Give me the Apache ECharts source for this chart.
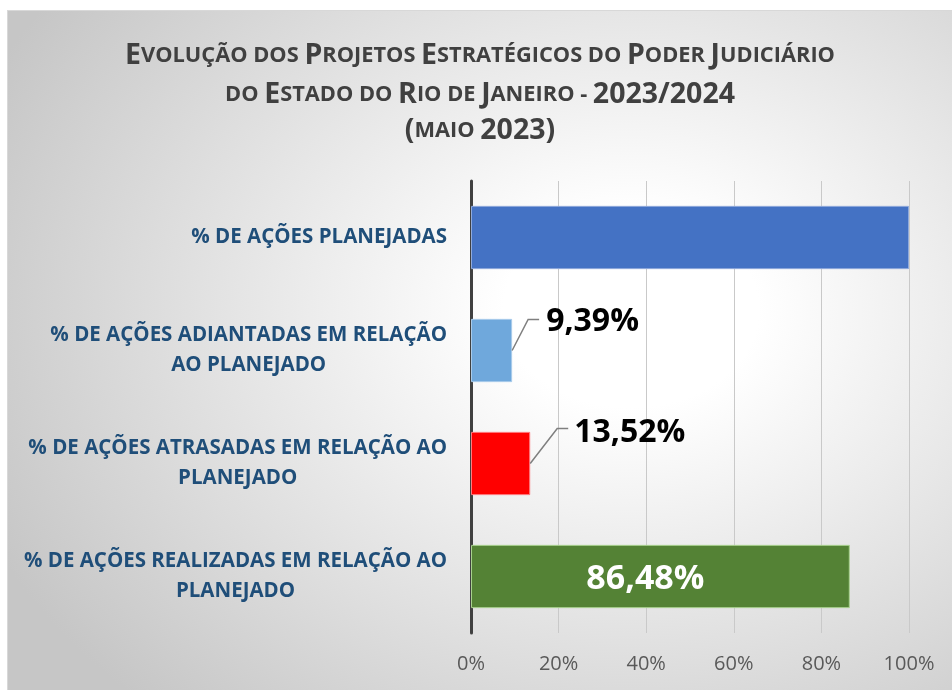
<!DOCTYPE html>
<html>
<head>
<meta charset="utf-8">
<script src="https://cdn.jsdelivr.net/npm/echarts@6/dist/echarts.min.js"></script>
<style>
  html, body { margin: 0; padding: 0; background: #ffffff; overflow: hidden; width: 952px; height: 690px; }
  #frame {
    position: absolute; left: 7px; top: 10px; width: 945px; height: 680px;
    background: radial-gradient(ellipse 75% 80% at 66% 44%, #ffffff 0%, #ffffff 18%, #c6c6c6 100%);
    border-top: 1px solid #d8d8d8; border-left: 1px solid #d8d8d8;
    box-sizing: border-box;
  }
  #chart { width: 944px; height: 679px; }
</style>
</head>
<body>
<div id="frame"><div id="chart"></div></div>
<script>
// ---- data ----
const categories = [
  '% DE AÇÕES PLANEJADAS',
  '% DE AÇÕES ADIANTADAS EM RELAÇÃO\nAO PLANEJADO',
  '% DE AÇÕES ATRASADAS EM RELAÇÃO AO\nPLANEJADO',
  '% DE AÇÕES REALIZADAS EM RELAÇÃO AO\nPLANEJADO'
];
const values = [100, 9.39, 13.52, 86.48];
const xTickValues = [0, 20, 40, 60, 80, 100];
const titleLine1 = '{b|E}{s|VOLUÇÃO DOS }{b|P}{s|ROJETOS }{b|E}{s|STRATÉGICOS DO }{b|P}{s|ODER }{b|J}{s|UDICIÁRIO}';
const titleLine2 = '{s|DO }{b|E}{s|STADO DO }{b|R}{s|IO DE }{b|J}{s|ANEIRO - }{b|2023/2024}';
const titleLine3 = '{b|(}{s|MAIO }{b|2023)}';

// ---- styles ----
const barColors = ['#4472C4', '#6FA8DC', '#FF0000', '#548235'];
const barBorders = ['#8FAADC', '#A9CBEB', '#FF7C80', '#A9D18E'];
const FONT = '"Open Sans", "Noto Sans", sans-serif';
const titleRich = {
  b: { fontFamily: FONT, fontSize: 28.5, fontWeight: 'bold', color: '#404040' },
  s: { fontFamily: FONT, fontSize: 21.8, fontWeight: 'bold', color: '#404040' }
};
// label placement (pixel offsets relative to the bar end / bar centre)
const leaderCfg = {
  1: { lx: 34, ly: 3, mx: 16, my: -31, ex: 27 },
  2: { lx: 44, ly: 1, mx: 27, my: -35, ex: 38 }
};
const insideCfg = { 3: { dx: -15, dy: 3 } };

const chart = echarts.init(document.getElementById('chart'), null, { renderer: 'canvas' });

const data = values.map((v, i) => {
  const item = {
    value: v,
    itemStyle: { color: barColors[i], borderColor: barBorders[i], borderWidth: 1 }
  };
  if (i === 0) {
    item.label = { show: false };
  } else if (i === 3) {
    item.label = {
      show: true, position: 'inside',
      color: '#ffffff', fontSize: 34, fontWeight: 'bold', fontFamily: FONT
    };
  } else {
    item.label = {
      show: true, position: 'right',
      color: '#000000', fontSize: 32, fontWeight: 'bold', fontFamily: FONT
    };
  }
  return item;
});

// leader lines drawn through the axes' coordinate system
const leaderData = values.map((v, i) => [v, i]).filter((d, i) => leaderCfg[i]);

const option = {
  backgroundColor: 'transparent',
  animation: false,
  title: [
    { text: titleLine1, left: 'center', top: 25, textStyle: { rich: titleRich } },
    { text: titleLine2, left: 'center', top: 64, textStyle: { rich: titleRich } },
    { text: titleLine3, left: 'center', top: 100, textStyle: { rich: titleRich } }
  ],
  grid: { left: 463, right: 43, top: 170, bottom: 57, containLabel: false },
  xAxis: {
    type: 'value', min: 0, max: 100, interval: 20,
    axisLine: { show: false },
    axisTick: { show: false },
    splitLine: { show: true, lineStyle: { color: '#C9C9C9', width: 1 } },
    axisLabel: {
      margin: 21,
      color: '#595959', fontSize: 20, fontFamily: FONT,
      customValues: xTickValues,
      formatter: v => v + '%'
    }
  },
  yAxis: {
    type: 'category', data: categories, inverse: true,
    axisLine: { show: true, lineStyle: { color: '#404040', width: 3 } },
    axisTick: { show: false },
    axisLabel: {
      margin: 24, align: 'right', lineHeight: 30,
      formatter: v => v.split('\n').map(l => '{c|' + l + '}').join('\n'),
      rich: {
        c: { align: 'center', fontFamily: FONT, fontSize: 20.5, fontWeight: 'bold', color: '#1F4E79', lineHeight: 30 }
      }
    }
  },
  series: [{
    type: 'bar',
    data: data,
    barCategoryGap: '44%',
    label: {
      formatter: p => p.value.toFixed(2).replace('.', ',') + '%'
    },
    labelLayout: function (params) {
      const r = params.rect;
      const ins = insideCfg[params.dataIndex];
      if (ins) {
        return {
          x: r.x + r.width / 2 + ins.dx, y: r.y + r.height / 2 + ins.dy,
          align: 'center', verticalAlign: 'middle'
        };
      }
      const cfg = leaderCfg[params.dataIndex];
      if (!cfg) return {};
      return {
        x: r.x + r.width + cfg.lx, y: r.y + cfg.ly, align: 'left', verticalAlign: 'middle'
      };
    }
  }, {
    type: 'custom',
    data: leaderData,
    silent: true,
    z: 3,
    renderItem: function (params, api) {
      const idx = api.value(1);
      const cfg = leaderCfg[idx];
      const p = api.coord([api.value(0), idx]);
      const x = p[0], y = p[1];
      return {
        type: 'polyline',
        shape: { points: [[x, y], [x + cfg.mx, y + cfg.my], [x + cfg.ex, y + cfg.my]] },
        style: { stroke: '#7F7F7F', lineWidth: 1.5, fill: null }
      };
    }
  }]
};
chart.setOption(option);
</script>
</body>
</html>
